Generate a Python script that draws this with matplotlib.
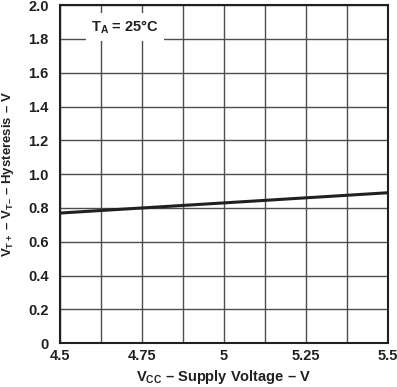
import matplotlib
matplotlib.use('Agg')
import matplotlib.pyplot as plt
import numpy as np

plt.rcParams['font.family'] = ['Liberation Sans', 'DejaVu Sans']
plt.rcParams['font.weight'] = 'bold'
plt.rcParams['axes.labelweight'] = 'bold'
plt.rcParams['mathtext.fontset'] = 'custom'
plt.rcParams['mathtext.rm'] = 'Liberation Sans:bold'
plt.rcParams['mathtext.it'] = 'Liberation Sans:bold'
plt.rcParams['mathtext.bf'] = 'Liberation Sans:bold'

# data
vcc = [4.5, 5.5]
hyst = [0.77, 0.89]
xticks = [4.5, 4.75, 5, 5.25, 5.5]
xtick_labels = ['4.5', '4.75', '5', '5.25', '5.5']
yticks = [0, 0.2, 0.4, 0.6, 0.8, 1.0, 1.2, 1.4, 1.6, 1.8, 2.0]
ytick_labels = ['0', '0.2', '0.4', '0.6', '0.8', '1.0', '1.2', '1.4', '1.6', '1.8', '2.0']

ink = '#231f20'

fig = plt.figure(figsize=(3.97, 3.87), dpi=100)
ax = fig.add_axes([0.151, 0.113, 0.826, 0.874])

ax.plot(vcc, hyst, color=ink, lw=2.2, solid_capstyle='butt', zorder=3)

ax.set_xlim(4.5, 5.5)
ax.set_ylim(0, 2.0)
ax.set_xticks(xticks)
ax.set_xticklabels(xtick_labels)
ax.set_yticks(yticks)
ax.set_yticklabels(ytick_labels)
ax.set_xticks(np.arange(4.5, 5.51, 0.125), minor=True)
ax.tick_params(which='both', length=0, labelsize=10.5, colors=ink)
ax.tick_params(axis='x', pad=4)
ax.tick_params(axis='y', pad=8)
ax.grid(True, which='both', color='#4d4d4d', lw=1.0)
ax.set_axisbelow(True)
for s in ax.spines.values():
    s.set_linewidth(1.5)
    s.set_color(ink)

ax.set_xlabel(r'V$_{\mathrm{CC}}$ – Supply Voltage – V', fontsize=10.5, color=ink, labelpad=4)
ax.set_ylabel(r'V$_{\mathrm{T+}}$ – V$_{\mathrm{T–}}$ – Hysteresis – V', fontsize=9.5, color=ink, labelpad=9)

ax.text(0.095, 0.935, r'T$_{\mathrm{A}}$ = 25°C', transform=ax.transAxes, fontsize=10.5,
        color=ink, va='center', ha='left',
        bbox=dict(facecolor='white', edgecolor='none', pad=4))

fig.savefig('out.png', dpi=100)
